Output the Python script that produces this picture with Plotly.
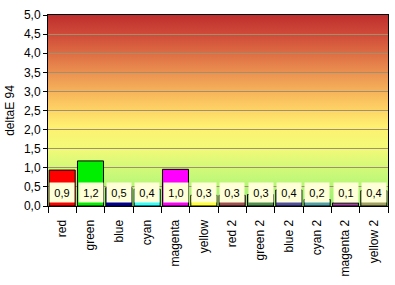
import base64
import plotly.graph_objects as go

categories = ["red", "green", "blue", "cyan", "magenta", "yellow",
              "red 2", "green 2", "blue 2", "cyan 2", "magenta 2", "yellow 2"]
values = [0.94, 1.18, 0.48, 0.44, 0.96, 0.28, 0.28, 0.30, 0.42, 0.17, 0.08, 0.40]
bar_colors = ["#ff0000", "#00ee00", "#000099", "#33ffff", "#ff00ff", "#ffff33",
              "#a05050", "#4f8f4f", "#5050a0", "#50a0a8", "#a040a0", "#a0a060"]
y_ticks = [0.0, 0.5, 1.0, 1.5, 2.0, 2.5, 3.0, 3.5, 4.0, 4.5, 5.0]

# gradient stops (offset from top, colour)
stops = [(0.0, "#bf2e2e"), (0.12, "#d2503a"), (0.3, "#eb9050"), (0.45, "#fbc460"),
         (0.58, "#fff070"), (0.7, "#f2fa78"), (0.85, "#c4f878"), (1.0, "#98f070")]
svg = ('<svg xmlns="http://www.w3.org/2000/svg" width="100" height="100" '
       'viewBox="0 0 100 100" preserveAspectRatio="none"><defs>'
       '<linearGradient id="g" x1="0" y1="0" x2="0" y2="1">'
       + "".join(f'<stop offset="{o}" stop-color="{c}"/>' for o, c in stops)
       + '</linearGradient></defs><rect width="100" height="100" fill="url(#g)"/></svg>')
src = "data:image/svg+xml;base64," + base64.b64encode(svg.encode()).decode()

labels = [f"{v:.1f}".replace(".", ",") for v in values]

fig = go.Figure()
fig.add_trace(go.Bar(x=categories, y=values, marker=dict(color=bar_colors,
                     line=dict(color="#000000", width=1)), width=0.92,
                     hoverinfo="skip"))

annotations = []
for c, t in zip(categories, labels):
    annotations.append(dict(x=c, y=0, xref="x", yref="y", text=t, showarrow=False,
                            yanchor="bottom", yshift=3, bgcolor="#ffffd8",
                            borderpad=2, width=20, height=15,
                            font=dict(family="Liberation Sans, Arial", size=11, color="#000")))

fig.update_layout(
    width=395, height=285,
    margin=dict(l=48, r=7, t=15, b=79),
    paper_bgcolor="white", plot_bgcolor="rgba(0,0,0,0)",
    separators=",.",
    showlegend=False,
    images=[dict(source=src, xref="x domain", yref="y domain", x=0, y=1,
                 sizex=1, sizey=1, sizing="stretch", xanchor="left",
                 yanchor="top", layer="below")],
    annotations=annotations,
    font=dict(family="Liberation Sans, Arial", size=12, color="#000"),
    bargap=0.08,
)
fig.update_xaxes(type="category", tickangle=-90, showline=True, linecolor="#000",
                 linewidth=1, mirror=True, ticks="outside", tickson="boundaries",
                 ticklen=6, tickcolor="#000", showgrid=False,
                 ticklabelstandoff=8, tickfont=dict(size=12))
fig.update_yaxes(range=[0, 5], tickvals=y_ticks, tickformat=".1f", showline=True,
                 linecolor="#000", linewidth=1, mirror=True, ticks="outside",
                 ticklen=4, tickcolor="#000", showgrid=True, gridcolor="#a09070",
                 gridwidth=1, zeroline=False,
                 title=dict(text="deltaE 94", standoff=6, font=dict(size=12)),
                 tickfont=dict(size=12))

fig.write_html("out.html")
